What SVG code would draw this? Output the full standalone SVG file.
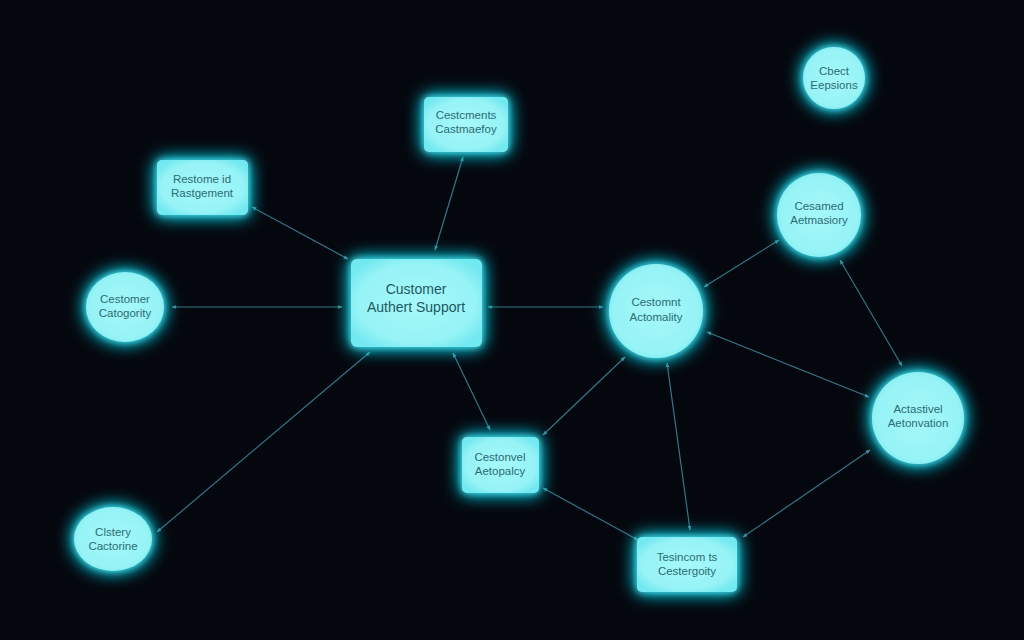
<svg xmlns="http://www.w3.org/2000/svg" width="1024" height="640" viewBox="0 0 1024 640">
<defs>
<filter id="glow" x="-60%" y="-60%" width="220%" height="220%">
<feGaussianBlur in="SourceAlpha" stdDeviation="9" result="b"/>
<feFlood flood-color="#1cc3d6" flood-opacity="0.95"/>
<feComposite in2="b" operator="in" result="g"/>
<feGaussianBlur in="SourceAlpha" stdDeviation="3" result="b2"/>
<feFlood flood-color="#3fe0ec" flood-opacity="1"/>
<feComposite in2="b2" operator="in" result="g2"/>
<feMerge><feMergeNode in="g"/><feMergeNode in="g"/><feMergeNode in="g2"/><feMergeNode in="SourceGraphic"/></feMerge>
</filter>
<radialGradient id="fillg" cx="50%" cy="50%" r="60%">
<stop offset="0" stop-color="#a6f8f8"/>
<stop offset="0.75" stop-color="#96f3f6"/>
<stop offset="1" stop-color="#72e8f0"/>
</radialGradient>
<marker id="ah" viewBox="0 0 10 10" refX="9" refY="5" markerWidth="4" markerHeight="4" orient="auto-start-reverse">
<path d="M0,1 L10,5 L0,9 z" fill="#4a97a6"/>
</marker>
<style>
.bg{fill:#04070e}
.node{fill:url(#fillg);filter:url(#glow)}
.t{font-family:"Liberation Sans",Arial,sans-serif;font-size:11.5px;fill:#2b6c76;text-anchor:middle}
.tl{font-family:"Liberation Sans",Arial,sans-serif;font-size:14px;fill:#1f5862;text-anchor:middle}
.c{stroke:#3b8291;stroke-width:1.2;fill:none;marker-start:url(#ah);marker-end:url(#ah);opacity:0.9}
</style>
</defs>
<rect class="bg" x="0" y="0" width="1024" height="640"/>
<g id="connectors">
<line class="c" x1="252" y1="207" x2="348" y2="259"/>
<line class="c" x1="435" y1="250" x2="463" y2="157"/>
<line class="c" x1="172" y1="307" x2="342" y2="307"/>
<line class="c" x1="157" y1="532" x2="370" y2="352"/>
<line class="c" x1="488" y1="307" x2="603" y2="307"/>
<line class="c" x1="453" y1="353" x2="490" y2="430"/>
<line class="c" x1="543" y1="435" x2="625" y2="357"/>
<line class="c" x1="667" y1="363" x2="690" y2="530"/>
<line class="c" x1="543" y1="488" x2="638" y2="540"/>
<line class="c" x1="743" y1="537" x2="870" y2="450"/>
<line class="c" x1="707" y1="332" x2="869" y2="397"/>
<line class="c" x1="704" y1="287" x2="779" y2="240"/>
<line class="c" x1="840" y1="260" x2="902" y2="366"/>
</g>
<g id="n-restome">
<rect class="node" x="157" y="160" width="91" height="55" rx="5"/>
<text class="t" x="202" y="183">Restome id</text>
<text class="t" x="202" y="197">Rastgement</text>
</g>
<g id="n-cestcments">
<rect class="node" x="424" y="97" width="84" height="55" rx="5"/>
<text class="t" x="466" y="119">Cestcments</text>
<text class="t" x="466" y="133">Castmaefoy</text>
</g>
<g id="n-customer">
<rect class="node" x="351" y="259" width="131" height="88" rx="6"/>
<text class="tl" x="416" y="294">Customer</text>
<text class="tl" x="416" y="312">Authert Support</text>
</g>
<g id="n-cestomer">
<ellipse class="node" cx="125" cy="307" rx="39" ry="35"/>
<text class="t" x="125" y="303">Cestomer</text>
<text class="t" x="125" y="317">Catogority</text>
</g>
<g id="n-clstery">
<ellipse class="node" cx="113" cy="539" rx="39" ry="32"/>
<text class="t" x="113" y="536">Clstery</text>
<text class="t" x="113" y="550">Cactorine</text>
</g>
<g id="n-cestomnt">
<circle class="node" cx="656" cy="311" r="47"/>
<text class="t" x="656" y="306">Cestomnt</text>
<text class="t" x="656" y="321">Actomality</text>
</g>
<g id="n-cesamed">
<circle class="node" cx="819" cy="215" r="42"/>
<text class="t" x="819" y="210">Cesamed</text>
<text class="t" x="819" y="224">Aetmasiory</text>
</g>
<g id="n-cbect">
<circle class="node" cx="834" cy="78" r="31"/>
<text class="t" x="834" y="75">Cbect</text>
<text class="t" x="834" y="89">Eepsions</text>
</g>
<g id="n-actastivel">
<circle class="node" cx="918" cy="418" r="46"/>
<text class="t" x="918" y="413">Actastivel</text>
<text class="t" x="918" y="427">Aetonvation</text>
</g>
<g id="n-cestonvel">
<rect class="node" x="462" y="437" width="77" height="56" rx="5"/>
<text class="t" x="500" y="461">Cestonvel</text>
<text class="t" x="500" y="475">Aetopalcy</text>
</g>
<g id="n-tesincom">
<rect class="node" x="637" y="537" width="100" height="55" rx="5"/>
<text class="t" x="687" y="561">Tesincom ts</text>
<text class="t" x="687" y="575">Cestergoity</text>
</g>
</svg>
